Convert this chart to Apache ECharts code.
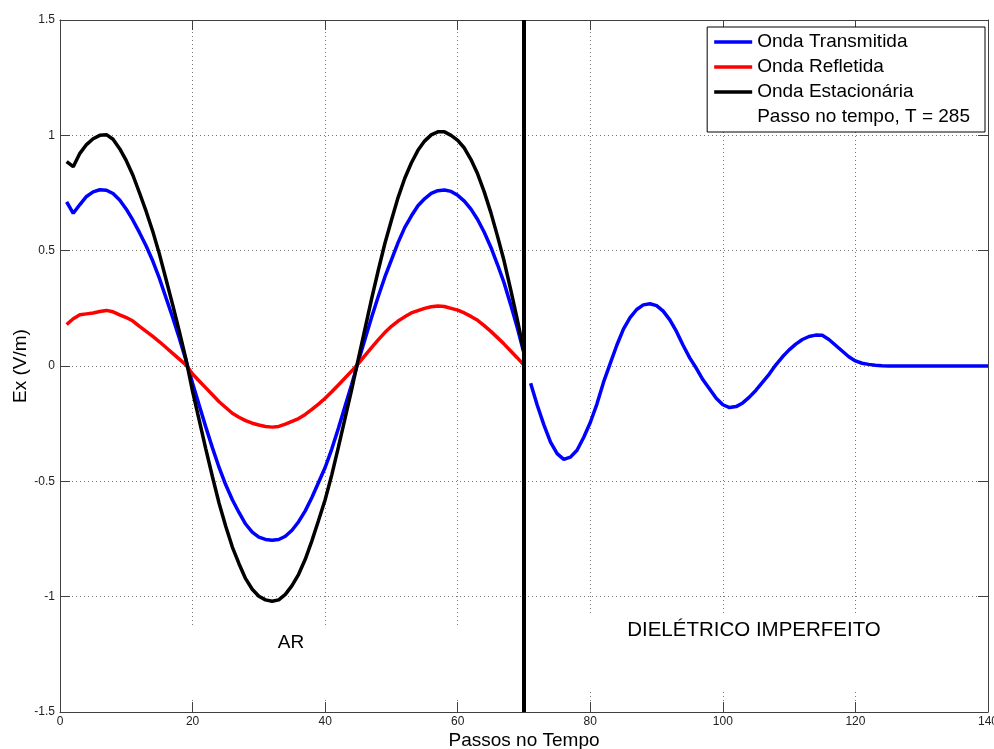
<!DOCTYPE html>
<html>
<head>
<meta charset="utf-8">
<script src="https://cdn.jsdelivr.net/npm/echarts@6/dist/echarts.min.js"></script>
<style>
html,body{margin:0;padding:0;background:#fff;}
#chart{width:994px;height:749px;}
</style>
</head>
<body>
<div id="chart"></div>
<script>
// ---- data ----
const firstStepAR = 1;          // region "AR": steps 1..70
const firstStepDiel = 71;       // region "DIELÉTRICO IMPERFEITO": steps 71..140

const transmitidaAR = [
  0.712, 0.662, 0.700, 0.735, 0.755, 0.764, 0.762, 0.748, 0.720, 0.680,
  0.632, 0.578, 0.520, 0.455, 0.380, 0.295, 0.210, 0.120, 0.025, -0.075,
  -0.170, -0.265, -0.355, -0.440, -0.515, -0.580, -0.635, -0.685, -0.720, -0.742,
  -0.752, -0.755, -0.752, -0.738, -0.712, -0.675, -0.628, -0.570, -0.505, -0.440,
  -0.360, -0.270, -0.175, -0.080, 0.020, 0.115, 0.210, 0.300, 0.385, 0.460,
  0.535, 0.600, 0.650, 0.695, 0.725, 0.748, 0.760, 0.763, 0.757, 0.740,
  0.715, 0.680, 0.635, 0.580, 0.515, 0.440, 0.360, 0.265, 0.165, 0.055
];
const transmitidaDiel = [
  -0.075, -0.170, -0.255, -0.330, -0.380, -0.405, -0.395, -0.365, -0.310, -0.245,
  -0.165, -0.070, 0.010, 0.090, 0.160, 0.210, 0.245, 0.265, 0.270, 0.262,
  0.238, 0.200, 0.150, 0.090, 0.035, -0.010, -0.060, -0.100, -0.140, -0.168,
  -0.180, -0.176, -0.160, -0.135, -0.105, -0.070, -0.035, 0.005, 0.040, 0.070,
  0.095, 0.115, 0.128, 0.134, 0.133, 0.115, 0.090, 0.065, 0.040, 0.022,
  0.012, 0.007, 0.003, 0.001, 0, 0, 0, 0, 0, 0,
  0, 0, 0, 0, 0, 0, 0, 0, 0, 0
];
const refletidaAR = [
  0.180, 0.205, 0.222, 0.226, 0.230, 0.236, 0.241, 0.235, 0.222, 0.210,
  0.195, 0.172, 0.150, 0.128, 0.105, 0.080, 0.055, 0.030, 0.005, -0.035,
  -0.065, -0.095, -0.125, -0.155, -0.180, -0.205, -0.222, -0.237, -0.248, -0.256,
  -0.262, -0.265, -0.262, -0.252, -0.240, -0.228, -0.210, -0.188, -0.165, -0.140,
  -0.112, -0.082, -0.052, -0.022, 0.010, 0.045, 0.080, 0.113, 0.145, 0.172,
  0.195, 0.213, 0.230, 0.240, 0.250, 0.257, 0.260, 0.258, 0.250, 0.242,
  0.230, 0.215, 0.198, 0.175, 0.150, 0.123, 0.095, 0.065, 0.035, 0.004
];
const estacionariaAR = [
  0.886, 0.864, 0.922, 0.960, 0.985, 1.000, 1.003, 0.983, 0.942, 0.890,
  0.827, 0.750, 0.670, 0.583, 0.485, 0.375, 0.265, 0.150, 0.030, -0.110,
  -0.235, -0.360, -0.480, -0.595, -0.695, -0.785, -0.857, -0.922, -0.968, -0.998,
  -1.014, -1.020, -1.014, -0.990, -0.952, -0.903, -0.838, -0.758, -0.670, -0.580,
  -0.472, -0.352, -0.227, -0.102, 0.030, 0.160, 0.290, 0.413, 0.530, 0.632,
  0.730, 0.813, 0.880, 0.935, 0.975, 1.002, 1.015, 1.015, 1.000, 0.978,
  0.945, 0.895, 0.833, 0.755, 0.665, 0.563, 0.455, 0.330, 0.200, 0.059
];
const interfaceX = [70, 70];
const interfaceY = [-1.5, 1.5];

const xTicks = { min: 0, max: 140, interval: 20 };
const yTicks = { min: -1.5, max: 1.5, interval: 0.5 };

const seriesNames = ['Onda Transmitida', 'Onda Refletida', 'Onda Estacionária'];
const legendNote = 'Passo no tempo, T = 285';
const xAxisName = 'Passos no Tempo';
const yAxisName = 'Ex (V/m)';
const regionLabels = ['AR', 'DIELÉTRICO IMPERFEITO'];

// ---- build chart ----
const FONT = '"Liberation Sans", Arial, Helvetica, sans-serif';
const toPairs = (arr, start) => arr.map((v, i) => [start + i, v]);

const axisCol = '#404040';
const gridLine = { show: true, lineStyle: { type: [1, 3], color: '#777', width: 1 } };

const chart = echarts.init(document.getElementById('chart'), null, { renderer: 'canvas' });

const lineSeries = (name, data, color) => ({
  name, type: 'line', data, symbol: 'none', showSymbol: false, smooth: false,
  lineStyle: { color, width: 3.5 }, itemStyle: { color },
  emphasis: { disabled: true }, silent: true, z: 3
});

const option = {
  animation: false,
  backgroundColor: '#ffffff',
  textStyle: { fontFamily: FONT },
  grid: { left: 60, right: 6, top: 20, bottom: 37, containLabel: false, outerBoundsMode: 'none' },
  xAxis: [
    {
      type: 'value', position: 'bottom', min: xTicks.min, max: xTicks.max, interval: xTicks.interval,
      axisLine: { show: true, onZero: false, lineStyle: { color: axisCol, width: 1 } },
      axisTick: { show: true, inside: true, length: 10, lineStyle: { color: axisCol } },
      axisLabel: { show: true, fontSize: 12, color: '#222', margin: 4, fontFamily: FONT, showMinLabel: true, showMaxLabel: true, hideOverlap: false },
      splitLine: gridLine,
      name: xAxisName, nameLocation: 'middle', nameGap: 19, nameMoveOverlap: false,
      nameTextStyle: { fontSize: 19, color: '#000', fontFamily: FONT }
    },
    {
      type: 'value', position: 'top', min: xTicks.min, max: xTicks.max, interval: xTicks.interval,
      axisLine: { show: true, onZero: false, lineStyle: { color: axisCol, width: 1 } },
      axisTick: { show: true, inside: true, length: 10, lineStyle: { color: axisCol } },
      axisLabel: { show: false }, splitLine: { show: false }
    }
  ],
  yAxis: [
    {
      type: 'value', position: 'left', min: yTicks.min, max: yTicks.max, interval: yTicks.interval,
      axisLine: { show: true, onZero: false, lineStyle: { color: axisCol, width: 1 } },
      axisTick: { show: true, inside: true, length: 10, lineStyle: { color: axisCol } },
      axisLabel: { show: true, fontSize: 12, color: '#222', margin: 5, fontFamily: FONT, showMinLabel: true, showMaxLabel: true },
      splitLine: gridLine,
      name: yAxisName, nameLocation: 'middle', nameGap: 30, nameRotate: 90, nameMoveOverlap: false,
      nameTextStyle: { fontSize: 19, color: '#000', fontFamily: FONT }
    },
    {
      type: 'value', position: 'right', min: yTicks.min, max: yTicks.max, interval: yTicks.interval,
      axisLine: { show: true, onZero: false, lineStyle: { color: axisCol, width: 1 } },
      axisTick: { show: true, inside: true, length: 10, lineStyle: { color: axisCol } },
      axisLabel: { show: false }, splitLine: { show: false }
    }
  ],
  legend: {
    orient: 'vertical', right: 9, top: 27,
    padding: [5, 15, 5, 7], itemGap: 5, itemWidth: 38, itemHeight: 3.5,
    backgroundColor: '#ffffff', borderColor: '#000', borderWidth: 1, borderRadius: 0,
    selectedMode: false,
    textStyle: { fontSize: 19, color: '#000', lineHeight: 20, fontFamily: FONT },
    data: [
      { name: seriesNames[0], icon: 'rect', itemStyle: { color: '#0000ff' } },
      { name: seriesNames[1], icon: 'rect', itemStyle: { color: '#ff0000' } },
      { name: seriesNames[2], icon: 'rect', itemStyle: { color: '#000000' } },
      { name: legendNote, icon: 'rect', itemStyle: { opacity: 0 }, lineStyle: { opacity: 0 } }
    ]
  },
  graphic: [
    { type: 'rect', silent: true, z: 1, shape: { x: 150, y: 625, width: 360, height: 74 }, style: { fill: '#ffffff' } },
    { type: 'rect', silent: true, z: 1, shape: { x: 540, y: 613, width: 430, height: 78 }, style: { fill: '#ffffff' } },
    { type: 'text', silent: true, z: 10, x: 291, y: 643,
      style: { text: regionLabels[0], font: '19px ' + FONT, fill: '#000', align: 'center', verticalAlign: 'middle' } },
    { type: 'text', silent: true, z: 10, x: 754, y: 630,
      style: { text: regionLabels[1], font: '20.5px ' + FONT, fill: '#000', align: 'center', verticalAlign: 'middle' } }
  ],
  series: [
    lineSeries(seriesNames[0], toPairs(transmitidaAR, firstStepAR), '#0000ff'),
    lineSeries(seriesNames[0], toPairs(transmitidaDiel, firstStepDiel), '#0000ff'),
    lineSeries(seriesNames[1], toPairs(refletidaAR, firstStepAR), '#ff0000'),
    lineSeries(seriesNames[2], toPairs(estacionariaAR, firstStepAR), '#000000'),
    {
      name: legendNote, type: 'line', data: [], symbol: 'none',
      lineStyle: { opacity: 0 }, itemStyle: { opacity: 0 }, silent: true
    },
    {
      name: 'interface', type: 'line', symbol: 'none', silent: true, z: 4,
      data: interfaceX.map((x, i) => [x, interfaceY[i]]),
      lineStyle: { color: '#000000', width: 4 }, emphasis: { disabled: true }
    }
  ]
};
chart.setOption(option);
</script>
</body>
</html>
